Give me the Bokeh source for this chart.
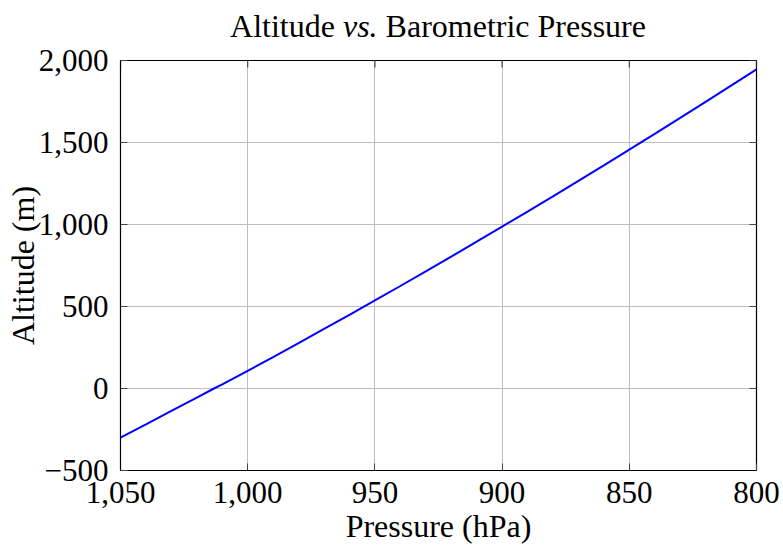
import math
from bokeh.plotting import figure
from bokeh.models import Range1d, FixedTicker, CustomJSTickFormatter, Div
from bokeh.layouts import column
from bokeh.embed import file_html
from bokeh.resources import INLINE

# Data
pressure_hpa = [1050, 1040, 1030, 1020, 1013.25, 1010, 1000, 990, 980, 970, 960, 950,
                940, 930, 920, 910, 900, 890, 880, 870, 860, 850, 840, 830, 820, 810, 800]
altitude_m = [-300, -219, -137, -55, 0, 25, 108, 192, 277, 363, 449, 537,
              625, 714, 804, 895, 987, 1079, 1172, 1266, 1361, 1457, 1553, 1650, 1748, 1847, 1946]

x_ticks = [1050, 1000, 950, 900, 850, 800]
y_ticks = [-500, 0, 500, 1000, 1500, 2000]

title_html = "Altitude <i>vs.</i> Barometric Pressure"
x_label = "Pressure (hPa)"
y_label = "Altitude (m)"

FONT = "Liberation Serif"

title = Div(text=title_html, width=783, height=40, margin=(0, 0, 0, 0),
            styles={"font-family": FONT, "font-size": "32px", "line-height": "32px",
                    "color": "black", "text-align": "center", "padding-top": "10px",
                    "padding-left": "93px", "box-sizing": "border-box", "width": "783px",
                    "white-space": "nowrap", "overflow": "visible"})

p = figure(width=783, height=508, output_backend="svg", toolbar_location=None,
           title=None,
           x_range=Range1d(1050, 800), y_range=Range1d(-500, 2000),
           min_border_left=120, min_border_right=27, min_border_top=20, min_border_bottom=78,
           margin=(0, 0, 0, 0))

p.background_fill_color = "white"
p.border_fill_color = "white"
p.outline_line_color = "black"
p.outline_line_width = 1.2

p.xgrid.ticker = FixedTicker(ticks=x_ticks)
p.ygrid.ticker = FixedTicker(ticks=y_ticks)
p.grid.grid_line_color = "#bdbdbd"
p.grid.grid_line_width = 1

# inward tick marks on the top and right edges (pgfplots box style)
p.scatter(x=x_ticks, y=[y_ticks[-1]] * len(x_ticks), marker="dash", angle=math.pi / 2,
          size=14, line_color="#444444", line_width=1.2)
p.scatter(x=[x_ticks[-1]] * len(y_ticks), y=y_ticks, marker="dash", angle=0,
          size=14, line_color="#444444", line_width=1.2)

p.line(pressure_hpa, altitude_m, line_color="#0000ff", line_width=2)

fmt = CustomJSTickFormatter(code="return tick.toLocaleString('en-US').replace('-', '\u2212');")

for ax, ticks in ((p.xaxis[0], x_ticks), (p.yaxis[0], y_ticks)):
    ax.ticker = FixedTicker(ticks=ticks)
    ax.formatter = fmt
    ax.major_label_text_font = FONT
    ax.major_label_text_font_size = "31px"
    ax.major_label_text_color = "black"
    ax.axis_label_text_font = FONT
    ax.axis_label_text_font_size = "32px"
    ax.axis_label_text_font_style = "normal"
    ax.axis_label_text_color = "black"
    ax.major_tick_in = 7
    ax.major_tick_out = 0
    ax.minor_tick_in = 0
    ax.minor_tick_out = 0
    ax.axis_line_color = "black"
    ax.major_tick_line_color = "#444444"

p.xaxis[0].axis_label = x_label
p.yaxis[0].axis_label = y_label
p.xaxis[0].major_label_standoff = 11
p.xaxis[0].axis_label_standoff = 2
p.yaxis[0].major_label_standoff = 12
p.yaxis[0].axis_label_standoff = -5

layout = column(title, p, margin=(0, 0, 0, 0), spacing=0)
open("out.html", "w").write(file_html(layout, INLINE))
